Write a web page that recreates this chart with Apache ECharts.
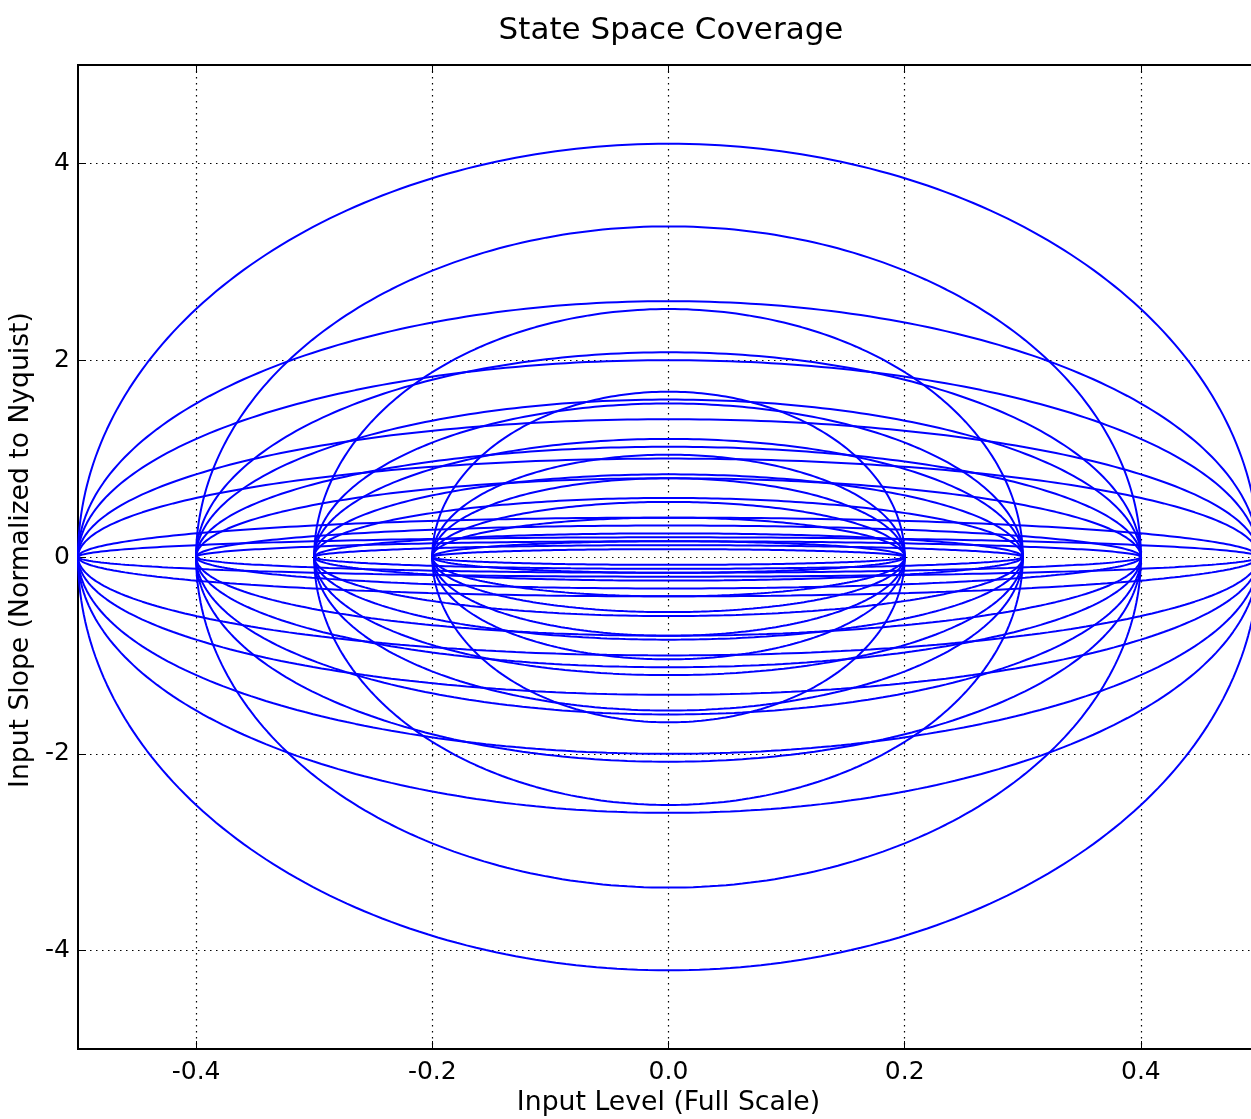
<!DOCTYPE html>
<html>
<head>
<meta charset="utf-8">
<script src="https://cdn.jsdelivr.net/npm/echarts@6/dist/echarts.min.js"></script>
<style>
html,body{margin:0;padding:0;background:#fff;}
#chart{width:1251px;height:1119px;}
</style>
</head>
<body>
<div id="chart"></div>
<script>
// Sine-wave amplitudes (full scale) whose state-space orbits are plotted
var amplitudes = [0.5, 0.4, 0.3, 0.2];
// Peak slope per unit amplitude (normalized to Nyquist)
var slopeFactors = [8.4, 5.2, 4.0, 2.8, 2.0, 0.8, 0.4];
var xTicks = [-0.4, -0.2, 0.0, 0.2, 0.4];
var yTicks = [-4, -2, 0, 2, 4];
var titleText = 'State Space Coverage';
var xName = 'Input Level (Full Scale)';
var yName = 'Input Slope (Normalized to Nyquist)';

var STEPS = 360;
var series = [];
amplitudes.forEach(function (a) {
  slopeFactors.forEach(function (k) {
    var pts = [];
    for (var i = 0; i <= STEPS; i++) {
      var t = 2 * Math.PI * i / STEPS;
      pts.push([a * Math.cos(t), a * k * Math.sin(t)]);
    }
    series.push({
      type: 'line', data: pts, showSymbol: false, symbol: 'none',
      lineStyle: { color: '#0000ff', width: 2 }, silent: true, z: 3
    });
  });
});

var font = 'DejaVu Sans';
var chart = echarts.init(document.getElementById('chart'), null, { renderer: 'canvas' });
chart.setOption({
  animation: false,
  backgroundColor: '#ffffff',
  textStyle: { fontFamily: font },
  title: {
    text: titleText, left: 666, top: 10, textAlign: 'center',
    textStyle: { fontFamily: font, fontSize: 31, fontWeight: 'normal', color: '#000' }
  },
  grid: { left: 78, top: 65, width: 1181, height: 984, outerBoundsMode: 'none', containLabel: false,
    show: true, borderColor: '#000', borderWidth: 2, backgroundColor: 'transparent' },
  xAxis: [{
    type: 'value', min: -0.5, max: 0.5, interval: 0.1, position: 'bottom',
    name: xName, nameLocation: 'middle', nameGap: 38,
    nameTextStyle: { fontFamily: font, fontSize: 26.7, color: '#000' },
    axisLine: { show: true, onZero: false, lineStyle: { color: '#000', width: 2 } },
    axisTick: { show: true, inside: true, length: 8, customValues: xTicks, lineStyle: { color: '#000', width: 1 } },
    axisLabel: { customValues: xTicks, fontFamily: font, fontSize: 25, color: '#000', margin: 11,
      formatter: function (v) { return (Math.round(v * 10) / 10).toFixed(1); } },
    splitLine: { show: true, customValues: xTicks, lineStyle: { color: '#000', type: [1.5, 4.5], width: 1.2 } }
  }, {
    type: 'value', min: -0.5, max: 0.5, interval: 0.1, position: 'top',
    axisLine: { show: true, onZero: false, lineStyle: { color: '#000', width: 2 } },
    axisTick: { show: true, inside: true, length: 8, customValues: xTicks, lineStyle: { color: '#000', width: 1 } },
    axisLabel: { show: false },
    splitLine: { show: false }
  }],
  yAxis: [{
    type: 'value', min: -5, max: 5, interval: 1, position: 'left',
    name: yName, nameLocation: 'middle', nameGap: 41, nameRotate: 90,
    nameTextStyle: { fontFamily: font, fontSize: 26.6, color: '#000', padding: [0, 0, 0, 14] },
    axisLine: { show: true, onZero: false, lineStyle: { color: '#000', width: 2 } },
    axisTick: { show: true, inside: true, length: 8, customValues: yTicks, lineStyle: { color: '#000', width: 1 } },
    axisLabel: { customValues: yTicks, fontFamily: font, fontSize: 25, color: '#000', margin: 8 },
    splitLine: { show: true, customValues: yTicks, lineStyle: { color: '#000', type: [1.5, 4.5], width: 1.2 } }
  }],
  series: series
});
</script>
</body>
</html>
